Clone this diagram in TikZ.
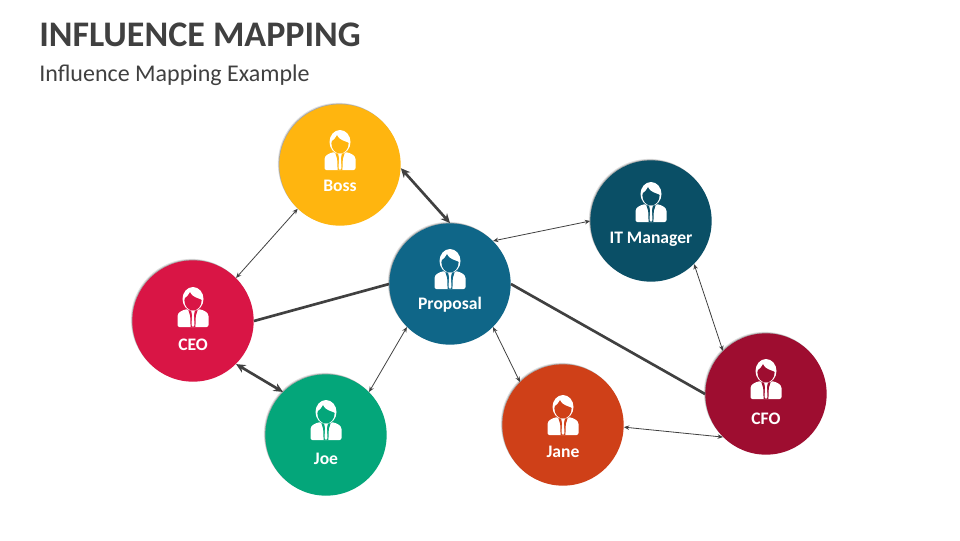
\documentclass[tikz,border=0pt]{standalone}
\usepackage{fontspec}
\setmainfont{Carlito}
\usetikzlibrary{shadows,arrows.meta}
\definecolor{textgray}{HTML}{404040}
\definecolor{linegray}{HTML}{404040}
\definecolor{bossc}{HTML}{FFB50F}
\definecolor{proposalc}{HTML}{0F6688}
\definecolor{itc}{HTML}{0A4F66}
\definecolor{ceoc}{HTML}{D91545}
\definecolor{joec}{HTML}{04A67A}
\definecolor{janec}{HTML}{CF4018}
\definecolor{cfoc}{HTML}{9E0D30}
\tikzset{
  bubble/.style={circle, minimum size=91pt, inner sep=0pt, fill=#1,
    drop shadow={shadow xshift=-1.1pt, shadow yshift=1.1pt, fill=black, opacity=0.12},
    drop shadow={shadow xshift=-0.5pt, shadow yshift=0.5pt, fill=black, opacity=0.25}},
  caption/.style={text=white, inner sep=0pt, font=\fontsize{13.2}{15}\selectfont\bfseries},
  thinlink/.style={{Stealth[length=4pt,width=3.4pt]}-{Stealth[length=4pt,width=3.4pt]}, draw=linegray, line width=0.6pt},
  thicklink/.style={{Stealth[length=7pt,width=6.5pt]}-{Stealth[length=7pt,width=6.5pt]}, draw=linegray, line width=2pt},
  plainlink/.style={draw=linegray, line width=2pt},
  person/.pic={
    % shoulders, then tie, then head
    \fill[white, rounded corners=1.5pt] (-15.5,5) -- (-15.5,-4) .. controls (-15.5,-10) and (-10,-12) .. (-5,-13)
      -- (0,-11) -- (5,-13) .. controls (10,-12) and (15.5,-10) .. (15.5,-4) -- (15.5,5) -- cycle;
    \fill[#1] (-2.4,5) -- (-2.8,-6) -- (-5,-13) -- (5,-13) -- (2.8,-6) -- (2.4,5) -- cycle;
    \fill[white] (-1.8,-11) -- (1.8,-11) -- (0.9,-7) -- (1.5,3) -- (0,5) -- (-1.5,3) -- (-0.9,-7) -- cycle;
    \fill[white] (0,-23) ellipse (10.5 and 12);
    \fill[#1] (0,-21.5) ellipse (8.6 and 10);
    \fill[white] (-9.5,-23) .. controls (-9,-35) and (9,-36) .. (9.5,-22)
      .. controls (5,-24) and (-1,-25) .. (-3,-30) .. controls (-4,-27) and (-7,-25) .. (-9.5,-23) -- cycle;
  }
}
\begin{document}
\begin{tikzpicture}[x=0.75pt, y=-0.75pt]
  \useasboundingbox (0,0) rectangle (960,540);
  \node[anchor=base west, inner sep=0pt, text=textgray, font=\fontsize{27}{30}\selectfont\bfseries] (title) at (39,46) {INFLUENCE MAPPING};
  \node[anchor=base west, inner sep=0pt, text=textgray, font=\fontsize{18}{20}\selectfont] (subtitle) at (39,81) {Influence Mapping Example};

  \node[bubble=bossc] (boss) at (340,165) {};
  \node[bubble=proposalc] (proposal) at (450,284) {};
  \node[bubble=itc] (itm) at (651,221) {};
  \node[bubble=ceoc] (ceo) at (193,321) {};
  \node[bubble=joec] (joe) at (326,435) {};
  \node[bubble=janec] (jane) at (563,425) {};
  \node[bubble=cfoc] (cfo) at (766,394) {};

  \draw[thinlink] (ceo.45) -- (boss.226);
  \draw[thicklink] (boss.-3) -- (proposal.north);
  \draw[plainlink] (ceo.east) -- (proposal.west);
  \draw[plainlink] (proposal.east) -- (cfo.west);
  \draw[thinlink] (proposal.45) -- (itm.west);
  \draw[thinlink] (itm.-45) -- (cfo.135);
  \draw[thinlink] (jane.-2) -- (cfo.225);
  \draw[thinlink] (proposal.-45) -- (jane.135);
  \draw[thinlink] (proposal.225) -- (joe.45);
  \draw[thicklink] (ceo.-45) -- (joe.135);

  \pic at (340,165) {person=bossc};
  \pic at (450,284) {person=proposalc};
  \pic at (651,217) {person=itc};
  \pic at (193,322) {person=ceoc};
  \pic at (326,435) {person=joec};
  \pic at (563,430) {person=janec};
  \pic at (766,394) {person=cfoc};

  \node[caption] (bosstext) at (340,186) {Boss};
  \node[caption] (proposaltext) at (450,305) {Proposal};
  \node[caption] (itmtext) at (651,239) {IT Manager};
  \node[caption] (ceotext) at (193,345) {CEO};
  \node[caption] (joetext) at (326,459) {Joe};
  \node[caption] (janetext) at (563,452) {Jane};
  \node[caption] (cfotext) at (766,419) {CFO};
\end{tikzpicture}
\end{document}
